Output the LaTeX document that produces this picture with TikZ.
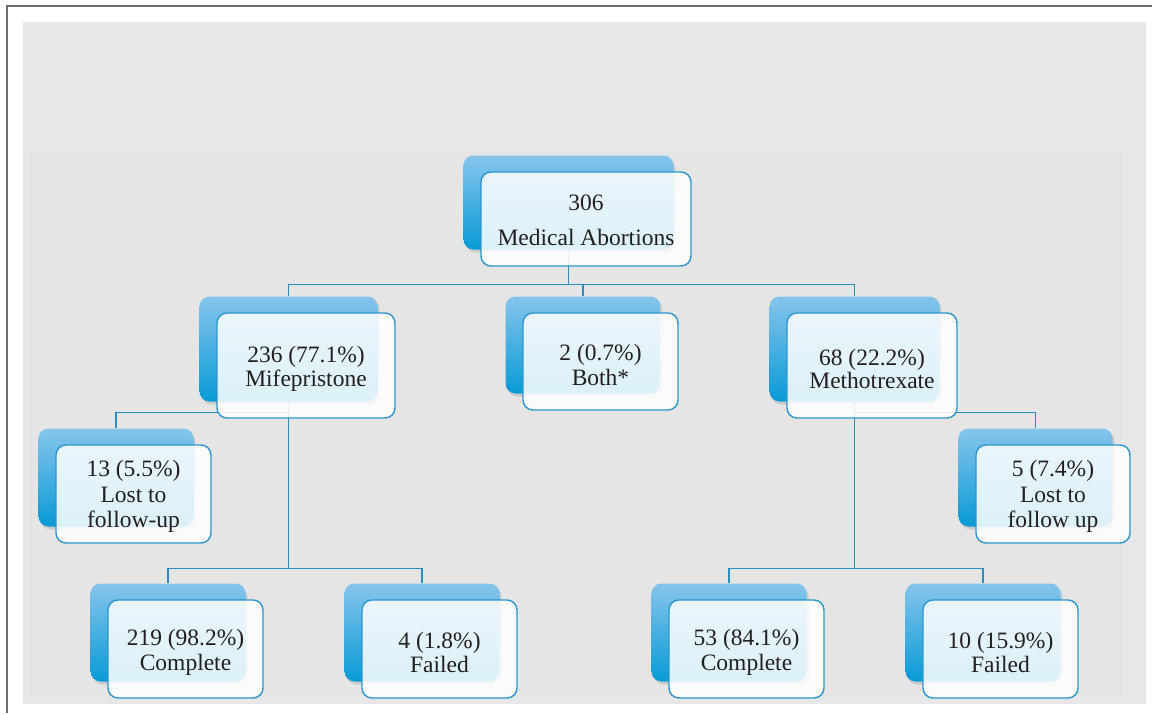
\documentclass[tikz,border=0pt]{standalone}
\usepackage{fontspec}
\setmainfont{Liberation Serif}
\newfontfamily\cardfont{Liberation Serif}
\usetikzlibrary{shadows}
\definecolor{frameline}{HTML}{6D6D6D}
\definecolor{panel}{HTML}{E6E7E8}
\definecolor{innerpanel}{HTML}{E4E5E4}
\definecolor{boxtop}{HTML}{86C5EC}
\definecolor{boxbot}{HTML}{089AD6}
\definecolor{cardline}{HTML}{2C96CB}
\definecolor{linkblue}{HTML}{2A8DBF}
\definecolor{cardtext}{HTML}{231F20}
\pgfdeclarelayer{bg}
\pgfdeclarelayer{links}
\pgfsetlayers{bg,links,main}
\tikzset{
	back/.style={rounded corners=10pt,top color=boxtop,bottom color=boxbot,inner sep=0pt,
		drop shadow={shadow xshift=2pt,shadow yshift=-3pt,opacity=.25}},
	card/.style={draw=cardline,line width=1.4pt,fill=white,fill opacity=.86,text opacity=1,
		rounded corners=10pt,inner sep=0pt,align=center,text=cardtext},
	link/.style={draw=linkblue,line width=1.3pt}
}
% back box (name-b) sits up and left of the front card (name)
\newcommand{\card}[7][23pt]{%
	\node[back,minimum width=#5pt,minimum height=#6pt] (#2-b) at ({#3-17.5},{#4-16.5}) {};
	\node[card,minimum width=#5pt,minimum height=#6pt] (#2) at (#3,#4) {\rule{0pt}{#1}#7};}

\begin{document}
\begin{tikzpicture}[x=1pt,y=-1pt,font=\cardfont\fontsize{23.5}{24.5}\selectfont]
	\useasboundingbox (0,0) rectangle (1152,715);
	\begin{pgfonlayer}{bg}
		\fill[white] (0,0) rectangle (1152,715);
		\fill[panel] (23,22) rectangle (1146,704);
		\fill[innerpanel] (30,152) rectangle (1122,697);
		\draw[frameline,line width=2pt] (7,713) -- (7,6) -- (1152,6);
	\end{pgfonlayer}

	\card[18pt]{total}{586}{219}{210}{94}{306\\[10pt]Medical Abortions}
	\card{mife}{306}{365.5}{178}{105}{236 (77.1\%)\\[-1pt]Mifepristone}
	\card{both}{600.5}{361.5}{155}{97}{2 (0.7\%)\\Both*}
	\card{metho}{872}{365.5}{170}{105}{68 (22.2\%)\\[-1pt]Methotrexate}
	\card[21pt]{lostm}{133.5}{494}{155}{98}{13 (5.5\%)\\[1pt]Lost to\\[1pt]follow-up}
	\card[21pt]{lostt}{1053}{494}{154}{98}{5 (7.4\%)\\[1pt]Lost to\\[1pt]follow up}
	\card{compm}{185.5}{649}{155}{98}{219 (98.2\%)\\Complete}
	\card{failm}{439.5}{649}{155}{98}{4 (1.8\%)\\Failed}
	\card{compt}{746.5}{649}{155}{98}{53 (84.1\%)\\Complete}
	\card{failt}{1000.5}{649}{155}{98}{10 (15.9\%)\\Failed}

	\begin{pgfonlayer}{links}
		\draw[link] (total-b.south) -- ++(0,35) coordinate (split);
		\draw[link] (split) -| (mife-b.north);
		\draw[link] (split) -| (both-b.north);
		\draw[link] (split) -| (metho-b.north);
		\draw[link] (mife-b.south) -- ++(0,11) -| (lostm-b.north);
		\draw[link] (mife-b.south) -- ++(0,167) coordinate (msplit);
		\draw[link] (msplit) -| (compm-b.north);
		\draw[link] (msplit) -| (failm-b.north);
		\draw[link] (metho-b.south) -- ++(0,11) -| (lostt-b.north);
		\draw[link] (metho-b.south) -- ++(0,167) coordinate (tsplit);
		\draw[link] (tsplit) -| (compt-b.north);
		\draw[link] (tsplit) -| (failt-b.north);
	\end{pgfonlayer}
\end{tikzpicture}
\end{document}
